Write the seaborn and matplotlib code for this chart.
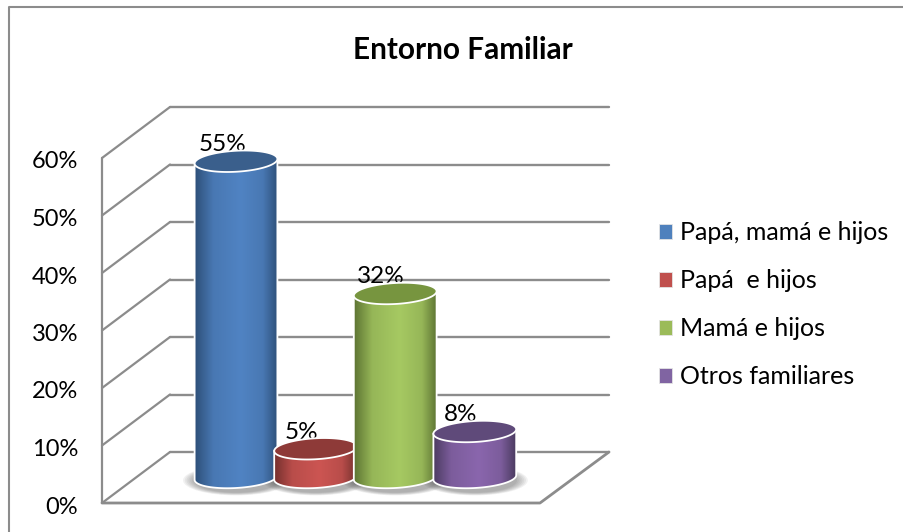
# Entorno familiar - cilindros 3D con seaborn
import numpy as np
import pandas as pd
import matplotlib
matplotlib.use("Agg")
import matplotlib.pyplot as plt
import seaborn as sns
from matplotlib.colors import LinearSegmentedColormap, to_rgb
from matplotlib.patches import Ellipse, Patch, PathPatch, Polygon
from matplotlib.path import Path

categorias = ["Papá, mamá e hijos", "Papá  e hijos", "Mamá e hijos", "Otros familiares"]
valores = [55, 5, 32, 8]
ticks = [0, 10, 20, 30, 40, 50, 60]
titulo = "Entorno Familiar"

colores = ["#4F81BD", "#C0504D", "#9BBB59", "#8064A2"]
claros = ["#5083C3", "#CC5552", "#A6C962", "#8A66AD"]
oscuros = ["#2E5079", "#74302E", "#5D7433", "#4B3B60"]
tapas = ["#3A5F8C", "#8E3A38", "#77953F", "#5F4A7A"]

sns.set_theme(style="white")
plt.rcParams["font.family"] = ["Lato", "DejaVu Sans"]

W, H = 904, 532
fig = plt.figure(figsize=(W / 100, H / 100), dpi=100)

# fondo en pixeles: marco y paredes
fondo = fig.add_axes([0, 0, 1, 1], zorder=0)
fondo.set_xlim(0, W)
fondo.set_ylim(H, 0)
fondo.axis("off")

gris = "#8C8C8C"
px_por_unidad = 5.75
x_frente, x_atras, x_der = 102, 170, 609
y_cero = 503
dx, dy = 68, -51

fondo.plot([9, 9, W], [H, 7, 7], color=gris, lw=1.5)
for t in ticks:
    y = y_cero - t * px_por_unidad
    fondo.plot([x_frente, x_atras], [y, y + dy], color=gris, lw=1.6, solid_capstyle="round")
    fondo.plot([x_atras, x_der], [y + dy, y + dy], color=gris, lw=1.7)
    fondo.text(78, y + 4, f"{t}%", ha="right", va="center", fontsize=17, color="black")
fondo.plot([x_frente, x_frente], [y_cero - 60 * px_por_unidad, y_cero], color=gris, lw=1.6)
fondo.plot([x_frente, 540, x_der], [y_cero, y_cero, y_cero + dy], color=gris, lw=2)
fondo.text(463, 50, titulo, ha="center", va="center", fontsize=21.4, fontweight="bold", color="black")

# barras: y en %, x en categorias
ax = fig.add_axes([0, 0, 1, 1], zorder=1)
ax.patch.set_visible(False)
df = pd.DataFrame({"categoria": categorias, "valor": valores})
sns.barplot(data=df, x="categoria", y="valor", hue="categoria", palette=colores,
            width=1.04, legend=False, ax=ax, saturation=1)

centro0, paso = 236, 79.6
y_base = 477.5
xlim = (-centro0 / paso, (W - centro0) / paso)
ylim = ((y_base - H) / px_por_unidad, y_base / px_por_unidad)
alto_tapa = 21 / px_por_unidad


def mezcla(a, b, f):
    return tuple((1 - f) * np.array(to_rgb(a)) + f * np.array(to_rgb(b)))


def elipse(xc, yc, ancho, ang, pendiente):
    # elipse un poco inclinada, derecha mas alta que izquierda
    xs = xc + ancho / 2 * np.cos(ang)
    ys = yc + alto_tapa / 2 * np.sin(ang) + pendiente * (xs - xc)
    return np.column_stack([xs, ys])


pendiente = (4.5 / px_por_unidad) / 1.04
for i, barra in enumerate(ax.patches):
    x0, ancho, alto = barra.get_x(), barra.get_width(), barra.get_height()
    xc = x0 + ancho / 2
    z = 5 + i
    barra.set_zorder(z)
    barra.set_edgecolor("none")

    # sombra difusa en la base
    for k in np.linspace(1.28, 1.02, 7):
        ax.add_patch(Ellipse((xc, -0.5), ancho * k, alto_tapa * (k + 0.15), fc="#404040",
                             ec="none", alpha=0.07, zorder=3))

    # cuerpo del cilindro
    abajo = elipse(xc, 0, ancho, np.linspace(np.pi, 2 * np.pi, 60), pendiente)
    arriba = elipse(xc, alto, ancho, np.array([0, np.pi]), pendiente)
    puntos = np.vstack([abajo, arriba])
    camino = Path(np.vstack([puntos, puntos[:1]]), closed=True)
    cuerpo = PathPatch(camino, fc="none", ec="none", zorder=z + 0.1)
    ax.add_patch(cuerpo)

    cmap = LinearSegmentedColormap.from_list(
        "c", [(0, oscuros[i]), (0.22, mezcla(claros[i], oscuros[i], 0.22)), (0.55, claros[i]),
              (0.82, mezcla(claros[i], oscuros[i], 0.22)), (1, oscuros[i])])
    grad = ax.imshow(np.linspace(0, 1, 256)[None, :], cmap=cmap, aspect="auto",
                     extent=(x0, x0 + ancho, -alto_tapa, alto + alto_tapa), zorder=z + 0.2)
    grad.set_clip_path(cuerpo)

    ax.add_patch(PathPatch(camino, fc="none", ec="white", lw=1.3, zorder=z + 0.3))
    tapa = elipse(xc, alto, ancho, np.linspace(0, 2 * np.pi, 120), pendiente)
    ax.add_patch(Polygon(tapa, closed=True, fc=tapas[i], ec="white", lw=1.3, zorder=z + 0.4))

    # etiqueta de dato, la tapa la cubre un poco
    ax.annotate(f"{valores[i]}%", (xc, alto), xytext=(-10, 12), textcoords="offset points",
                ha="center", va="center", fontsize=17.5, color="black", zorder=2)

ax.set_xlim(xlim)
ax.set_ylim(ylim)
ax.axis("off")

handles = [Patch(fc=c, ec="#E4E4E4", lw=0.6) for c in colores]
fig.legend(handles, categorias, loc="center left", frameon=False, fontsize=18,
           bbox_to_anchor=(636.5 / W, 1 - 305 / H), bbox_transform=fig.transFigure,
           handlelength=0.52, handleheight=0.52, handletextpad=0.32, labelspacing=1.0,
           labelcolor="black")

fig.savefig("out.png", dpi=100)
